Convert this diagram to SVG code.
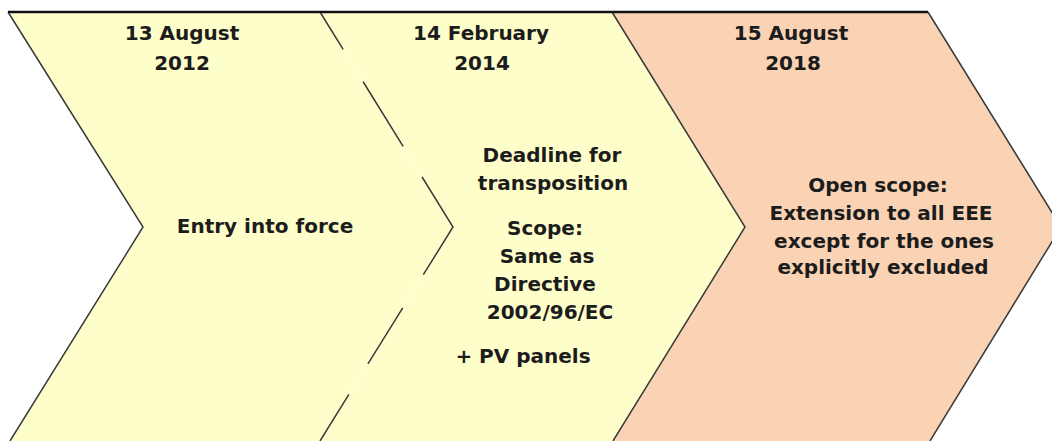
<svg xmlns="http://www.w3.org/2000/svg" width="1052" height="441" viewBox="0 0 1052 441">
  <style>
    .t { font-family: "DejaVu Sans", Verdana, sans-serif; font-weight: bold; font-size: 20px; fill: #1c1c1c; text-anchor: middle; }
    .yellow { fill: #FEFECB; }
    .salmon { fill: #F9D3B3; }
    .edge { fill: none; stroke: #3a3a3a; stroke-width: 1.5; stroke-linejoin: miter; }
    .dash { stroke-dasharray: 44 38 76 36 115 39 66 36 60; }
    .top { stroke: #111; stroke-width: 2.5; }
  </style>
  <rect width="1052" height="441" fill="#ffffff"/>

  <g id="node-2012">
    <polygon class="yellow" points="8,12 320,12 453,227 320,441 10,441 143,227"/>
    <text class="t" x="182" y="40">13 August</text>
    <text class="t" x="182" y="70">2012</text>
    <text class="t" x="265" y="233">Entry into force</text>
  </g>

  <g id="node-2014">
    <polygon class="yellow" points="320,12 612,12 745,227 613,441 320,441 453,227"/>
    <text class="t" x="481" y="40">14 February</text>
    <text class="t" x="482" y="70">2014</text>
    <text class="t" x="552" y="162">Deadline for</text>
    <text class="t" x="553" y="190">transposition</text>
    <text class="t" x="545" y="235">Scope:</text>
    <text class="t" x="547" y="263">Same as</text>
    <text class="t" x="545" y="291">Directive</text>
    <text class="t" x="550" y="319">2002/96/EC</text>
    <text class="t" x="523" y="363">+ PV panels</text>
  </g>

  <g id="node-2018">
    <polygon class="salmon" points="612,12 928,12 1061,227 930,441 613,441 745,227"/>
    <text class="t" x="791" y="40">15 August</text>
    <text class="t" x="793" y="70">2018</text>
    <text class="t" x="878" y="192">Open scope:</text>
    <text class="t" x="881" y="220">Extension to all EEE</text>
    <text class="t" x="884" y="248">except for the ones</text>
    <text class="t" x="883" y="274">explicitly excluded</text>
  </g>

  <g id="connectors">
    <polyline class="edge" points="8,12 143,227 10,441"/>
    <polyline class="edge dash" points="320,12 453,227 320,441"/>
    <polyline class="edge" points="612,12 745,227 613,441"/>
    <polyline class="edge" points="928,12 1061,227 930,441"/>
    <line class="edge top" x1="8" y1="12" x2="928" y2="12"/>
  </g>
</svg>
